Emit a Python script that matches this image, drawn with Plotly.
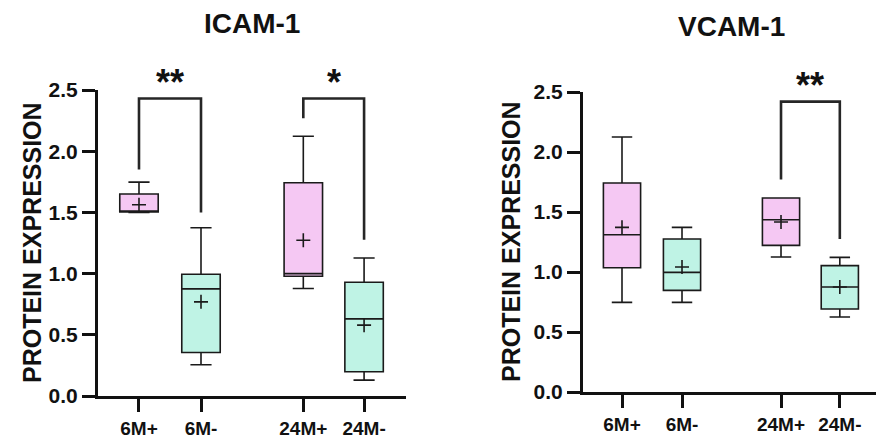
import plotly.graph_objects as go

# ---------------- data ----------------
groups = ["6M+", "6M-", "24M+", "24M-"]
positions = [0, 1, 2.65, 3.63]
box_colors = ["#F5C8F3", "#BFF3E5", "#F5C8F3", "#BFF3E5"]

icam_min = [1.50, 0.255, 0.878, 0.130]
icam_q1 = [1.503, 0.356, 0.978, 0.198]
icam_med = [1.503, 0.875, 1.000, 0.630]
icam_q3 = [1.650, 0.995, 1.742, 0.929]
icam_max = [1.747, 1.375, 2.122, 1.128]
icam_mean = [1.562, 0.769, 1.272, 0.579]

vcam_min = [0.747, 0.747, 1.125, 0.625]
vcam_q1 = [1.036, 0.847, 1.222, 0.692]
vcam_med = [1.311, 0.997, 1.436, 0.875]
vcam_q3 = [1.742, 1.275, 1.617, 1.053]
vcam_max = [2.125, 1.372, 1.617, 1.122]
vcam_mean = [1.372, 1.042, 1.417, 0.875]

icam_sig_pairs = [(0, 1), (2, 3)]
icam_sig_top = [2.43, 2.43]
icam_sig_legs = [(1.85, 1.50), (2.27, 1.277)]
icam_sig_labels = ["**", "*"]

vcam_sig_pairs = [(2, 3)]
vcam_sig_top = [2.42]
vcam_sig_legs = [(1.77, 1.275)]
vcam_sig_labels = ["**"]

y_ticks = [0.0, 0.5, 1.0, 1.5, 2.0, 2.5]

FONT = "Arial, 'Liberation Sans', sans-serif"
W, H = 876, 439

fig = go.Figure()


def add_panel(xa, ya, mins, q1s, meds, q3s, maxs, means, pairs, tops, legs, labels):
    for i, g in enumerate(groups):
        fig.add_trace(go.Box(
            x=[positions[i]], q1=[q1s[i]], median=[meds[i]], q3=[q3s[i]],
            lowerfence=[mins[i]], upperfence=[maxs[i]],
            fillcolor=box_colors[i], line=dict(color="#1a1a1a", width=1.6),
            width=0.62, whiskerwidth=0.55, boxpoints=False,
            xaxis=xa, yaxis=ya, showlegend=False, name=g))
    fig.add_trace(go.Scatter(
        x=positions, y=means, mode="markers",
        marker=dict(symbol="cross-thin", size=10, line=dict(color="#1a1a1a", width=1.6)),
        xaxis=xa, yaxis=ya, showlegend=False))
    for (a, b), top, (la, lb), lab in zip(pairs, tops, legs, labels):
        fig.add_trace(go.Scatter(
            x=[positions[a], positions[a], positions[b], positions[b]],
            y=[la, top, top, lb], mode="lines",
            line=dict(color="#262626", width=2.6),
            xaxis=xa, yaxis=ya, showlegend=False))
        fig.add_annotation(
            x=(positions[a] + positions[b]) / 2, y=top, xref=xa, yref=ya,
            text=f"<b>{lab}</b>", showarrow=False, xanchor="center",
            yanchor="bottom", yshift=-6,
            font=dict(family=FONT, size=36, color="#111"))


add_panel("x", "y", icam_min, icam_q1, icam_med, icam_q3, icam_max, icam_mean,
          icam_sig_pairs, icam_sig_top, icam_sig_legs, icam_sig_labels)
add_panel("x2", "y2", vcam_min, vcam_q1, vcam_med, vcam_q3, vcam_max, vcam_mean,
          vcam_sig_pairs, vcam_sig_top, vcam_sig_legs, vcam_sig_labels)

axis_common = dict(
    showgrid=False, zeroline=False, showline=True, linecolor="#111", linewidth=3,
    ticks="outside", ticklen=13, tickwidth=3, tickcolor="#111", automargin=False,
)
y_tickfont = dict(family=FONT, size=21, color="#111", weight="bold")
x_tickfont = dict(family=FONT, size=19, color="#111", weight="bold")

fig.update_layout(
    width=W, height=H, margin=dict(l=0, r=0, t=0, b=0, pad=0, autoexpand=False),
    plot_bgcolor="white", paper_bgcolor="white",
    xaxis=dict(domain=[98 / W, 406 / W], range=[-0.661, 4.306],
               tickmode="array", tickvals=positions, ticktext=groups, anchor="y",
               tickfont=x_tickfont, ticklabelstandoff=0, **axis_common),
    yaxis=dict(domain=[1 - 396 / H, 1 - 90 / H], range=[0, 2.5],
               tickmode="array", tickvals=y_ticks, tickformat=".1f", anchor="x",
               tickfont=y_tickfont, **axis_common),
    xaxis2=dict(domain=[583 / W, 1.0], range=[-0.65, 4.233],
                tickmode="array", tickvals=positions, ticktext=groups, anchor="y2",
                tickfont=x_tickfont, ticklabelstandoff=0, **axis_common),
    yaxis2=dict(domain=[1 - 392 / H, 1 - 92 / H], range=[0, 2.5],
                tickmode="array", tickvals=y_ticks, tickformat=".1f", anchor="x2",
                tickfont=y_tickfont, **axis_common),
)

# titles
title_font = dict(family=FONT, size=28, color="#111")
ylab_font = dict(family=FONT, size=25, color="#111")
fig.add_annotation(x=252 / W, y=1 - 24 / H, xref="paper", yref="paper",
                   xanchor="center", yanchor="middle",
                   text="<b>ICAM-1</b>", showarrow=False, font=title_font)
fig.add_annotation(x=731 / W, y=1 - 26 / H, xref="paper", yref="paper",
                   xanchor="center", yanchor="middle",
                   text="<b>VCAM-1</b>", showarrow=False, font=title_font)
fig.add_annotation(x=32 / W, y=1 - 243 / H, xref="paper", yref="paper",
                   xanchor="center", yanchor="middle",
                   text="<b>PROTEIN EXPRESSION</b>", showarrow=False, textangle=-90,
                   font=ylab_font)
fig.add_annotation(x=511 / W, y=1 - 242 / H, xref="paper", yref="paper",
                   xanchor="center", yanchor="middle",
                   text="<b>PROTEIN EXPRESSION</b>", showarrow=False, textangle=-90,
                   font=ylab_font)

fig.write_html("out.html", config={"displayModeBar": False},
               post_script="document.body.style.margin='0';")
